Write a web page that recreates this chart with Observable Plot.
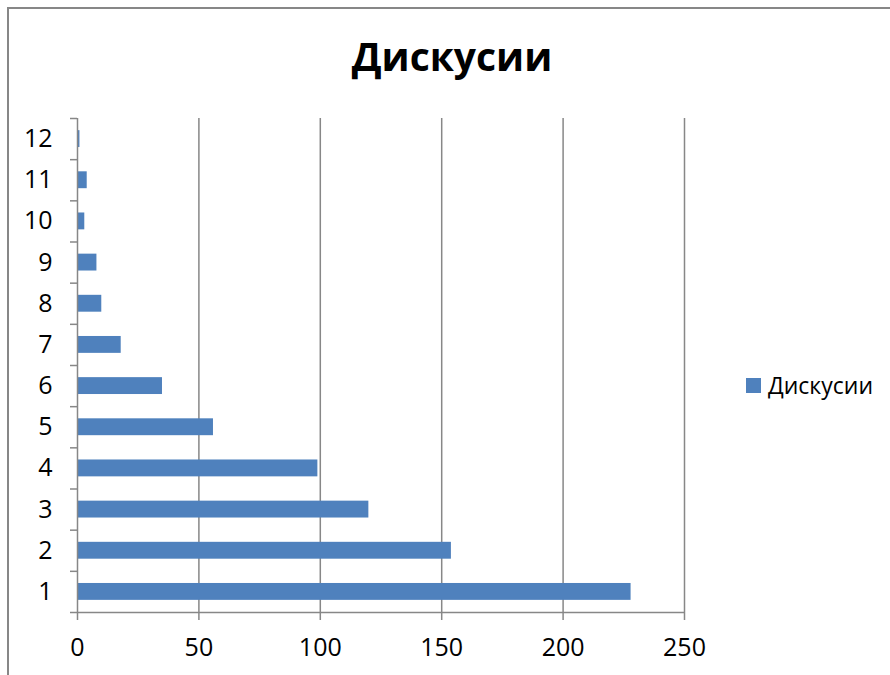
<!DOCTYPE html>
<html>
<head>
<meta charset="utf-8">
<script src="https://cdn.jsdelivr.net/npm/d3@7"></script>
<script src="https://cdn.jsdelivr.net/npm/@observablehq/plot@0.6"></script>
<style>
  html, body { margin: 0; padding: 0; background: #fff; overflow: hidden; }
  #wrap { position: relative; width: 890px; height: 675px; overflow: hidden; font-family: "Open Sans", sans-serif; }
  #border { position: absolute; left: 7px; top: 7px; width: 1000px; height: 1000px; border-left: 2px solid #878787; border-top: 2px solid #878787; box-sizing: border-box; }
  #title { position: absolute; left: 7px; width: 890px; top: 32px; text-align: center; font-weight: 700; font-size: 39px; line-height: 48px; color: #000; }
  #legend { position: absolute; left: 746px; top: 370px; display: flex; align-items: center; font-size: 23px; line-height: 30px; color: #000; }
  #legend .sw { width: 15px; height: 15px; background: #4F81BD; margin-right: 7px; }
  #chart { position: absolute; left: 0; top: 0; }
</style>
</head>
<body>
<div id="wrap">
  <div id="border"></div>
  <div id="chart"></div>
  <div id="title"></div>
  <div id="legend"><div class="sw"></div><span id="legtext"></span></div>
</div>
<script>
const categories = [1, 2, 3, 4, 5, 6, 7, 8, 9, 10, 11, 12];
const values = [228, 154, 120, 99, 56, 35, 18, 10, 8, 3, 4, 1];
const xTicks = [0, 50, 100, 150, 200, 250];
const seriesName = "Дискусии";
const chartTitle = "Дискусии";

const data = categories.map((c, i) => ({cat: c, value: values[i]}));
const half = 0.205;
const gridColor = "#878787";

const chart = Plot.plot({
  width: 890,
  height: 675,
  marginLeft: 77,
  marginRight: 206,
  marginTop: 118,
  marginBottom: 63,
  style: {fontFamily: "Open Sans, sans-serif", fontSize: "25px", color: "#000", background: "transparent"},
  x: {domain: [0, 250]},
  y: {domain: [0.5, 12.5]},
  marks: [
    Plot.ruleX(xTicks.filter(d => d > 0), {y1: 0.5, y2: 12.5, stroke: gridColor, strokeWidth: 1.5}),
    Plot.rectX(data, {x: "value", y1: d => d.cat - half, y2: d => d.cat + half, fill: "#4F81BD"}),
    Plot.ruleX([0], {y1: 0.5, y2: 12.5, stroke: gridColor, strokeWidth: 1.5}),
    Plot.ruleY([0.5], {x1: 0, x2: 250, stroke: gridColor, strokeWidth: 1.5}),
    Plot.axisX({ticks: xTicks, tickSize: 8, tickPadding: 18, stroke: gridColor, strokeWidth: 1.5, label: null, tickFormat: d => String(d)}),
    Plot.axisY({ticks: categories, tickSize: 0, tickPadding: 25, label: null, tickFormat: d => String(d)}),
    Plot.axisY({ticks: d3.range(0.5, 13, 1), tickSize: 7, tickFormat: () => "", stroke: gridColor, strokeWidth: 1.5, label: null})
  ]
});
document.getElementById("chart").appendChild(chart);
document.getElementById("title").textContent = chartTitle;
document.getElementById("legtext").textContent = seriesName;
</script>
</body>
</html>
